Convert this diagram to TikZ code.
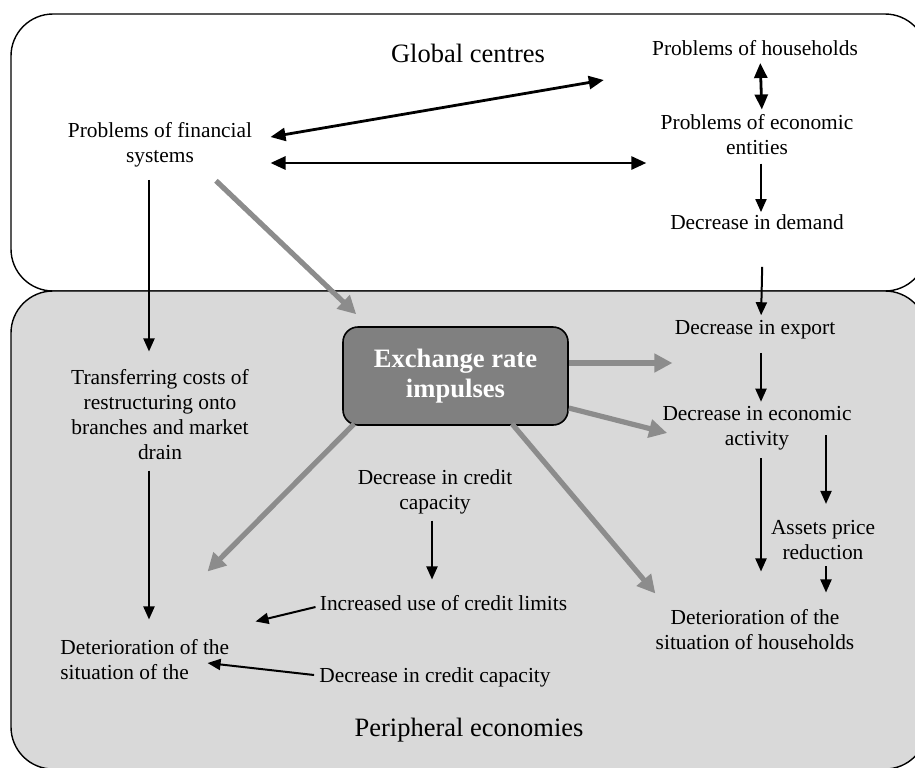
\documentclass[tikz,border=0pt]{standalone}
\usepackage{fontspec}
\setmainfont{Liberation Serif}
\definecolor{peribg}{gray}{0.85}
\definecolor{impulsefill}{gray}{0.50}
\definecolor{impulseline}{gray}{0.55}
\usetikzlibrary{arrows.meta,positioning}
\tikzset{
  areabox/.style={draw,line width=0.7pt,rounded corners=21pt},
  txt/.style={inner sep=0pt,align=center},
  regionlbl/.style={inner sep=0pt,font=\fontsize{13.25}{15}\selectfont},
  impulsebox/.style={draw,line width=0.8pt,fill=impulsefill,rounded corners=7.5pt,
                     text=white,align=center,minimum width=112.5pt,minimum height=49pt,
                     font=\bfseries\fontsize{13.3}{15}\selectfont},
  blkarrow/.style={-{Triangle[length=6.5pt,width=5.5pt]},line width=1pt},
  dblarrow/.style={{Triangle[length=7.5pt,width=6.5pt]}-{Triangle[length=7.5pt,width=6.5pt]},
                   line width=1.4pt},
  grayarrow/.style={-{Triangle[length=9pt,width=9pt]},line width=2.6pt,draw=impulseline},
}
\begin{document}
\begin{tikzpicture}[x=0.5pt,y=-0.5pt,font=\fontsize{10.7}{12.5}\selectfont]
  \useasboundingbox (0,0) rectangle (915,767);
  \clip (0,0) rectangle (915,767);
  % the two regions
  \draw[areabox,fill=white] (11,14) rectangle (927,291);
  \draw[areabox,fill=peribg] (11,291) rectangle (927,769);
  \node[regionlbl] (glob) at (468,53) {Global centres};
  \node[regionlbl] (peri) at (469,730) {Peripheral economies};

  \node[txt] (hh) at (755,48) {Problems of households};
  \node[txt] (ent) at (757,135) {Problems of economic\\entities};
  \node[txt] (dem) at (757,222) {Decrease in demand};
  \node[txt] (fin) at (160,145) {Problems of financial\\systems};
  \node[impulsebox] (exch) at (455.5,376) {Exchange rate\\impulses};
  \node[txt] (exp) at (755,330) {Decrease in export};
  \node[txt] (act) at (757,428) {Decrease in economic\\activity};
  \node[txt] (asset) at (823,540) {Assets price\\reduction};
  \node[txt] (dethh) at (755,630) {Deterioration of the\\situation of households};
  \node[txt] (trans) at (160,415) {Transferring costs of\\restructuring onto\\branches and market\\drain};
  \node[txt] (crd1) at (435,492) {Decrease in credit\\capacity};
  \node[txt] (incr) at (443.5,603) {Increased use of credit limits};
  \node[txt,align=left,anchor=west] (detl) at (60,660) {Deterioration of the\\situation of the};
  \node[txt] (crd2) at (435,677) {Decrease in credit capacity};

  % black links
  \draw[dblarrow] ([shift={(18,-8)}]fin.east) -- ([shift={(-48,32)}]hh.west);
  \draw[dblarrow] ([shift={(18,18)}]fin.east) -- ([shift={(-14,28)}]ent.west);
  \draw[dblarrow,shorten <=3.5pt,shorten >=2.5pt] ([xshift=2.5pt]hh.south) -- ([xshift=2.5pt]ent.north);
  \draw[blkarrow,shorten <=4pt,shorten >=1pt] ([xshift=2pt]ent.south) -- ([xshift=2pt]dem.north);
  \draw[blkarrow,shorten <=18.5pt,shorten >=2.5pt] ([xshift=3pt]dem.south) -- ([xshift=3pt]exp.north);
  \draw[blkarrow,shorten <=6.5pt,shorten >=2pt] ([xshift=3pt]exp.south) -- ([xshift=2pt]act.north);
  \draw[blkarrow,shorten <=4pt,shorten >=19pt] ([xshift=2pt]act.south) -- ([xshift=3pt]dethh.north);
  \draw[blkarrow,shorten <=3.5pt,shorten >=8pt] ([xshift=1.5pt]asset.north |- act) -- ([xshift=1.5pt]asset.north);
  \draw[blkarrow,shorten <=3pt,shorten >=8.5pt] ([xshift=1.5pt]asset.south) -- ([xshift=1.5pt]asset.south |- dethh.north);
  \draw[blkarrow,shorten <=6pt,shorten >=9pt] ([xshift=-5.5pt]fin.south) -- ([xshift=-5.5pt]trans.north);
  \draw[blkarrow,shorten <=5pt,shorten >=10pt] ([xshift=-5.5pt]trans.south) -- ([xshift=-5.5pt]trans.south |- detl.north);
  \draw[blkarrow,shorten <=3pt,shorten >=7.75pt] ([xshift=-1.5pt]crd1.south) -- ([xshift=-1.5pt]crd1.south |- incr.north);
  \draw[blkarrow] ([shift={(-4,4)}]incr.west) -- ([shift={(26,-18)}]detl.north east);
  \draw[blkarrow] ([shift={(-5,-2)}]crd2.west) -- ([shift={(-22,3)}]detl.east);

  % impulses
  \draw[grayarrow] ([shift={(56,13)}]fin.south) -- ([shift={(14,-12)}]exch.north west);
  \draw[grayarrow] ([shift={(0,-13)}]exch.east) -- ([shift={(-2,33)}]exp.west);
  \draw[grayarrow] ([shift={(0,32)}]exch.east) -- ([shift={(5,5)}]act.west);
  \draw[grayarrow] ([shift={(12,-2)}]exch.south west) -- ([shift={(-22,-68)}]detl.north east);
  \draw[grayarrow] ([shift={(56.5,-2)}]exch.south) -- ([shift={(0,-16)}]dethh.north west);
\end{tikzpicture}
\end{document}
